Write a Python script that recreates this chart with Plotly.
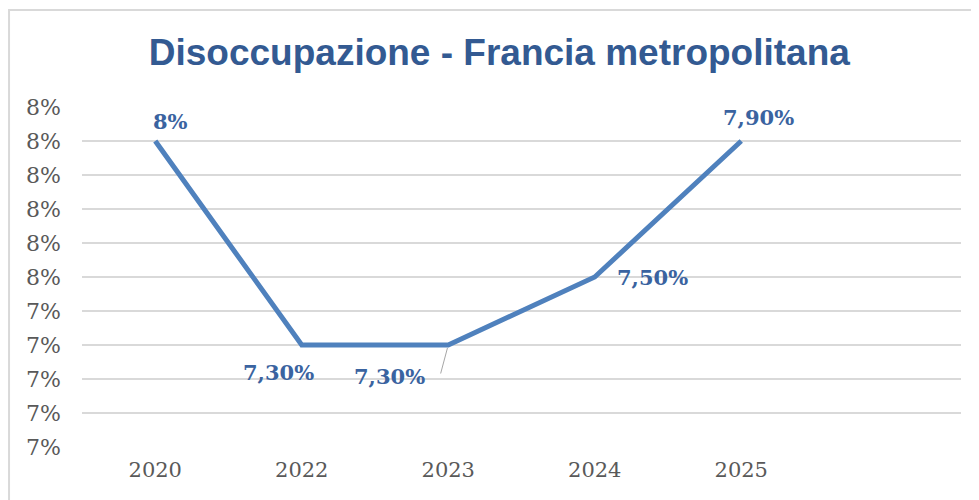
import plotly.graph_objects as go

# data
anni = ["2020", "2022", "2023", "2024", "2025"]
disoccupazione = [7.9, 7.3, 7.3, 7.5, 7.9]
etichette = ["8%", "7,30%", "7,30%", "7,50%", "7,90%"]
y_ticks = [7.0, 7.1, 7.2, 7.3, 7.4, 7.5, 7.6, 7.7, 7.8, 7.9, 8.0]
y_ticktext = ["7%", "7%", "7%", "7%", "7%", "8%", "8%", "8%", "8%", "8%", "8%"]

# label offsets in px (x, y) - like Excel placed them
offsets = [(15, 20), (-23, -27), (-59, -31), (58, 0), (17, 24)]

blu_linea = "#4F81BD"
blu_testo = "#3A63A0"
grigio = "#595959"

fig = go.Figure()
fig.add_trace(go.Scatter(x=anni, y=disoccupazione, mode="lines",
                         line=dict(color=blu_linea, width=5),
                         hoverinfo="x+y", showlegend=False))

# category axis -> use the index for annotation position
for i in range(len(anni)):
    dx, dy = offsets[i]
    fig.add_annotation(x=i, y=disoccupazione[i], text="<b>" + etichette[i] + "</b>",
                       showarrow=False, xshift=dx, yshift=dy,
                       xanchor="center", yanchor="middle",
                       font=dict(family="DejaVu Serif", size=21, color=blu_testo))

# leader line for the 2023 label
fig.add_annotation(x=2, y=disoccupazione[2], text="", showarrow=True,
                   arrowhead=0, arrowwidth=1, arrowcolor="#A6A6A6",
                   ax=-8, ay=30, standoff=3)

# chart frame (page has an 8px body margin)
fig.add_shape(type="rect", xref="paper", yref="paper",
              x0=-0.083, y0=-0.3, x1=1.1, y1=1.285,
              line=dict(color="#D9D9D9", width=2), layer="below")

fig.update_layout(
    width=971, height=492,
    margin=dict(l=74, r=18, t=99, b=53),
    paper_bgcolor="white", plot_bgcolor="white",
    title=dict(text="<b>Disoccupazione - Francia metropolitana</b>",
               x=0.506, xanchor="center", xref="container",
               y=0.911, yanchor="middle", yref="container",
               font=dict(family="Liberation Sans", size=37, color="#335A92")),
)
fig.update_xaxes(type="category", range=[-0.5, 5.5], showgrid=False,
                 showline=False, zeroline=False,
                 tickfont=dict(family="DejaVu Serif", size=21, color=grigio),
                 ticks="", ticklabelstandoff=8)
fig.update_yaxes(range=[7.0, 8.0], tickvals=y_ticks, ticktext=y_ticktext,
                 showgrid=True, gridcolor="#D9D9D9", gridwidth=1.5,
                 zeroline=False, showline=False,
                 tickfont=dict(family="DejaVu Serif", size=22, color=grigio),
                 ticklabelstandoff=20)

fig.write_html("out.html")
